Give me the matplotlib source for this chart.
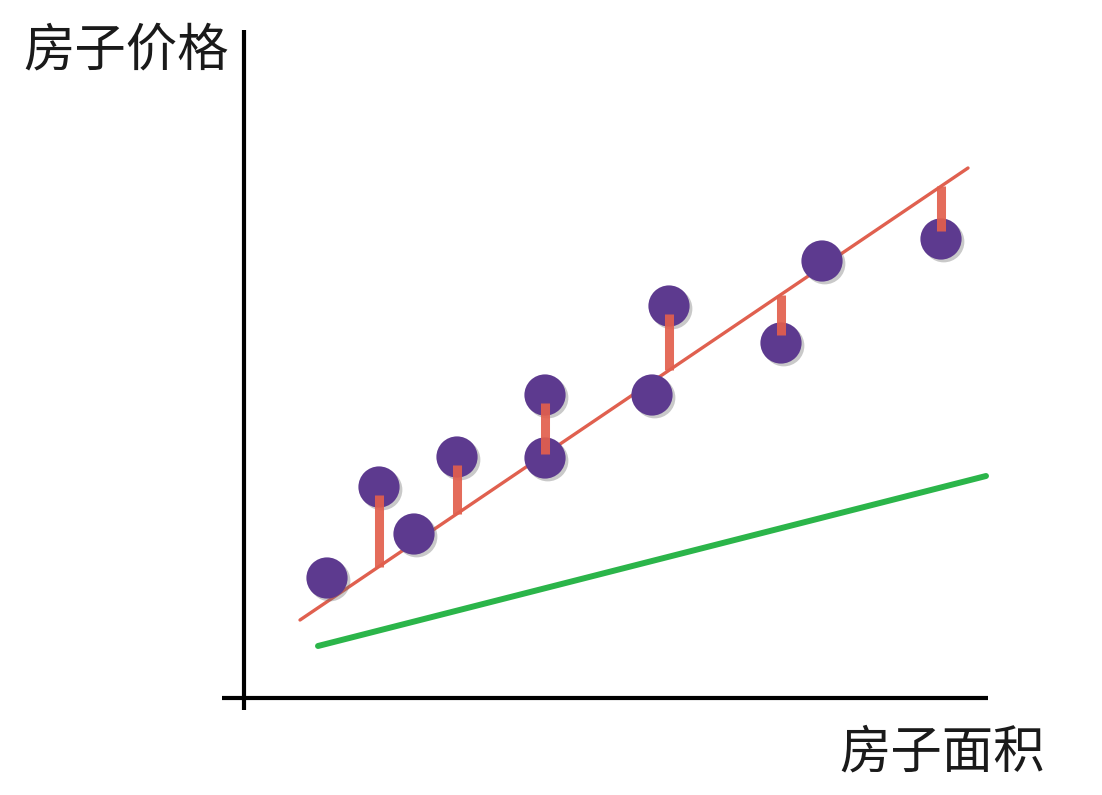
import matplotlib
matplotlib.use("Agg")
import matplotlib.pyplot as plt
import matplotlib.patheffects as pe
import numpy as np

plt.rcParams['font.family'] = ['Noto Sans CJK SC', 'DejaVu Sans']

# data (arbitrary units: house area vs. house price)
area = [8.3, 13.5, 17.0, 21.3, 30.1, 30.1, 40.8, 42.5, 53.7, 57.8, 69.7]
price = [12.0, 21.1, 16.4, 24.1, 30.3, 24.0, 30.3, 39.2, 35.5, 43.7, 45.9]
# points whose residual to the fitted line is drawn
resid_idx = [1, 3, 4, 7, 8, 10]
# fitted (red) line and poor (green) line endpoints
fit_x = [5.6, 72.4]
fit_y = [7.8, 53.0]
bad_x = [7.4, 74.2]
bad_y = [5.2, 22.2]
xlabel = "房子面积"
ylabel = "房子价格"

fig = plt.figure(figsize=(11.02, 7.95), dpi=100)
ax = fig.add_axes([0, 0, 1, 1])
ax.set_xlim(-24.4, 85.8)
ax.set_ylim(-9.7, 69.8)
ax.axis('off')

# axes drawn by hand
ax.plot([0, 0], [-1.2, 66.8], color='black', lw=3, solid_capstyle='butt', zorder=2)
ax.plot([-2.2, 74.4], [0, 0], color='black', lw=3, solid_capstyle='butt', zorder=2)

# fitted line
slope = (fit_y[1] - fit_y[0]) / (fit_x[1] - fit_x[0])
ax.plot(fit_x, fit_y, color='#e0604f', lw=2.4, solid_capstyle='round', zorder=3)
# poor line
ax.plot(bad_x, bad_y, color='#2bb54a', lw=4.3, solid_capstyle='round', zorder=3)

# points
ax.scatter(area, price, s=880, color='#5d3a8f', edgecolors='none', zorder=4,
           path_effects=[pe.SimplePatchShadow(offset=(2, -2), shadow_rgbFace='#666666', alpha=0.35),
                         pe.Normal()])

# residuals
for i in resid_idx:
    x = area[i]
    yl = fit_y[0] + slope * (x - fit_x[0])
    ax.plot([x, x], [price[i] - 0.8 * np.sign(price[i] - yl), yl], color='#e25f4d',
            lw=6.5, alpha=0.92, solid_capstyle='butt', zorder=5)

ax.text(-1.5, 64.7, ylabel, fontsize=37, fontweight='light', ha='right', va='center', color='#1a1a1a')
ax.text(80.1, -5.5, xlabel, fontsize=37, fontweight='light', ha='right', va='center', color='#1a1a1a')

fig.savefig("out.png", dpi=100, facecolor='white')
